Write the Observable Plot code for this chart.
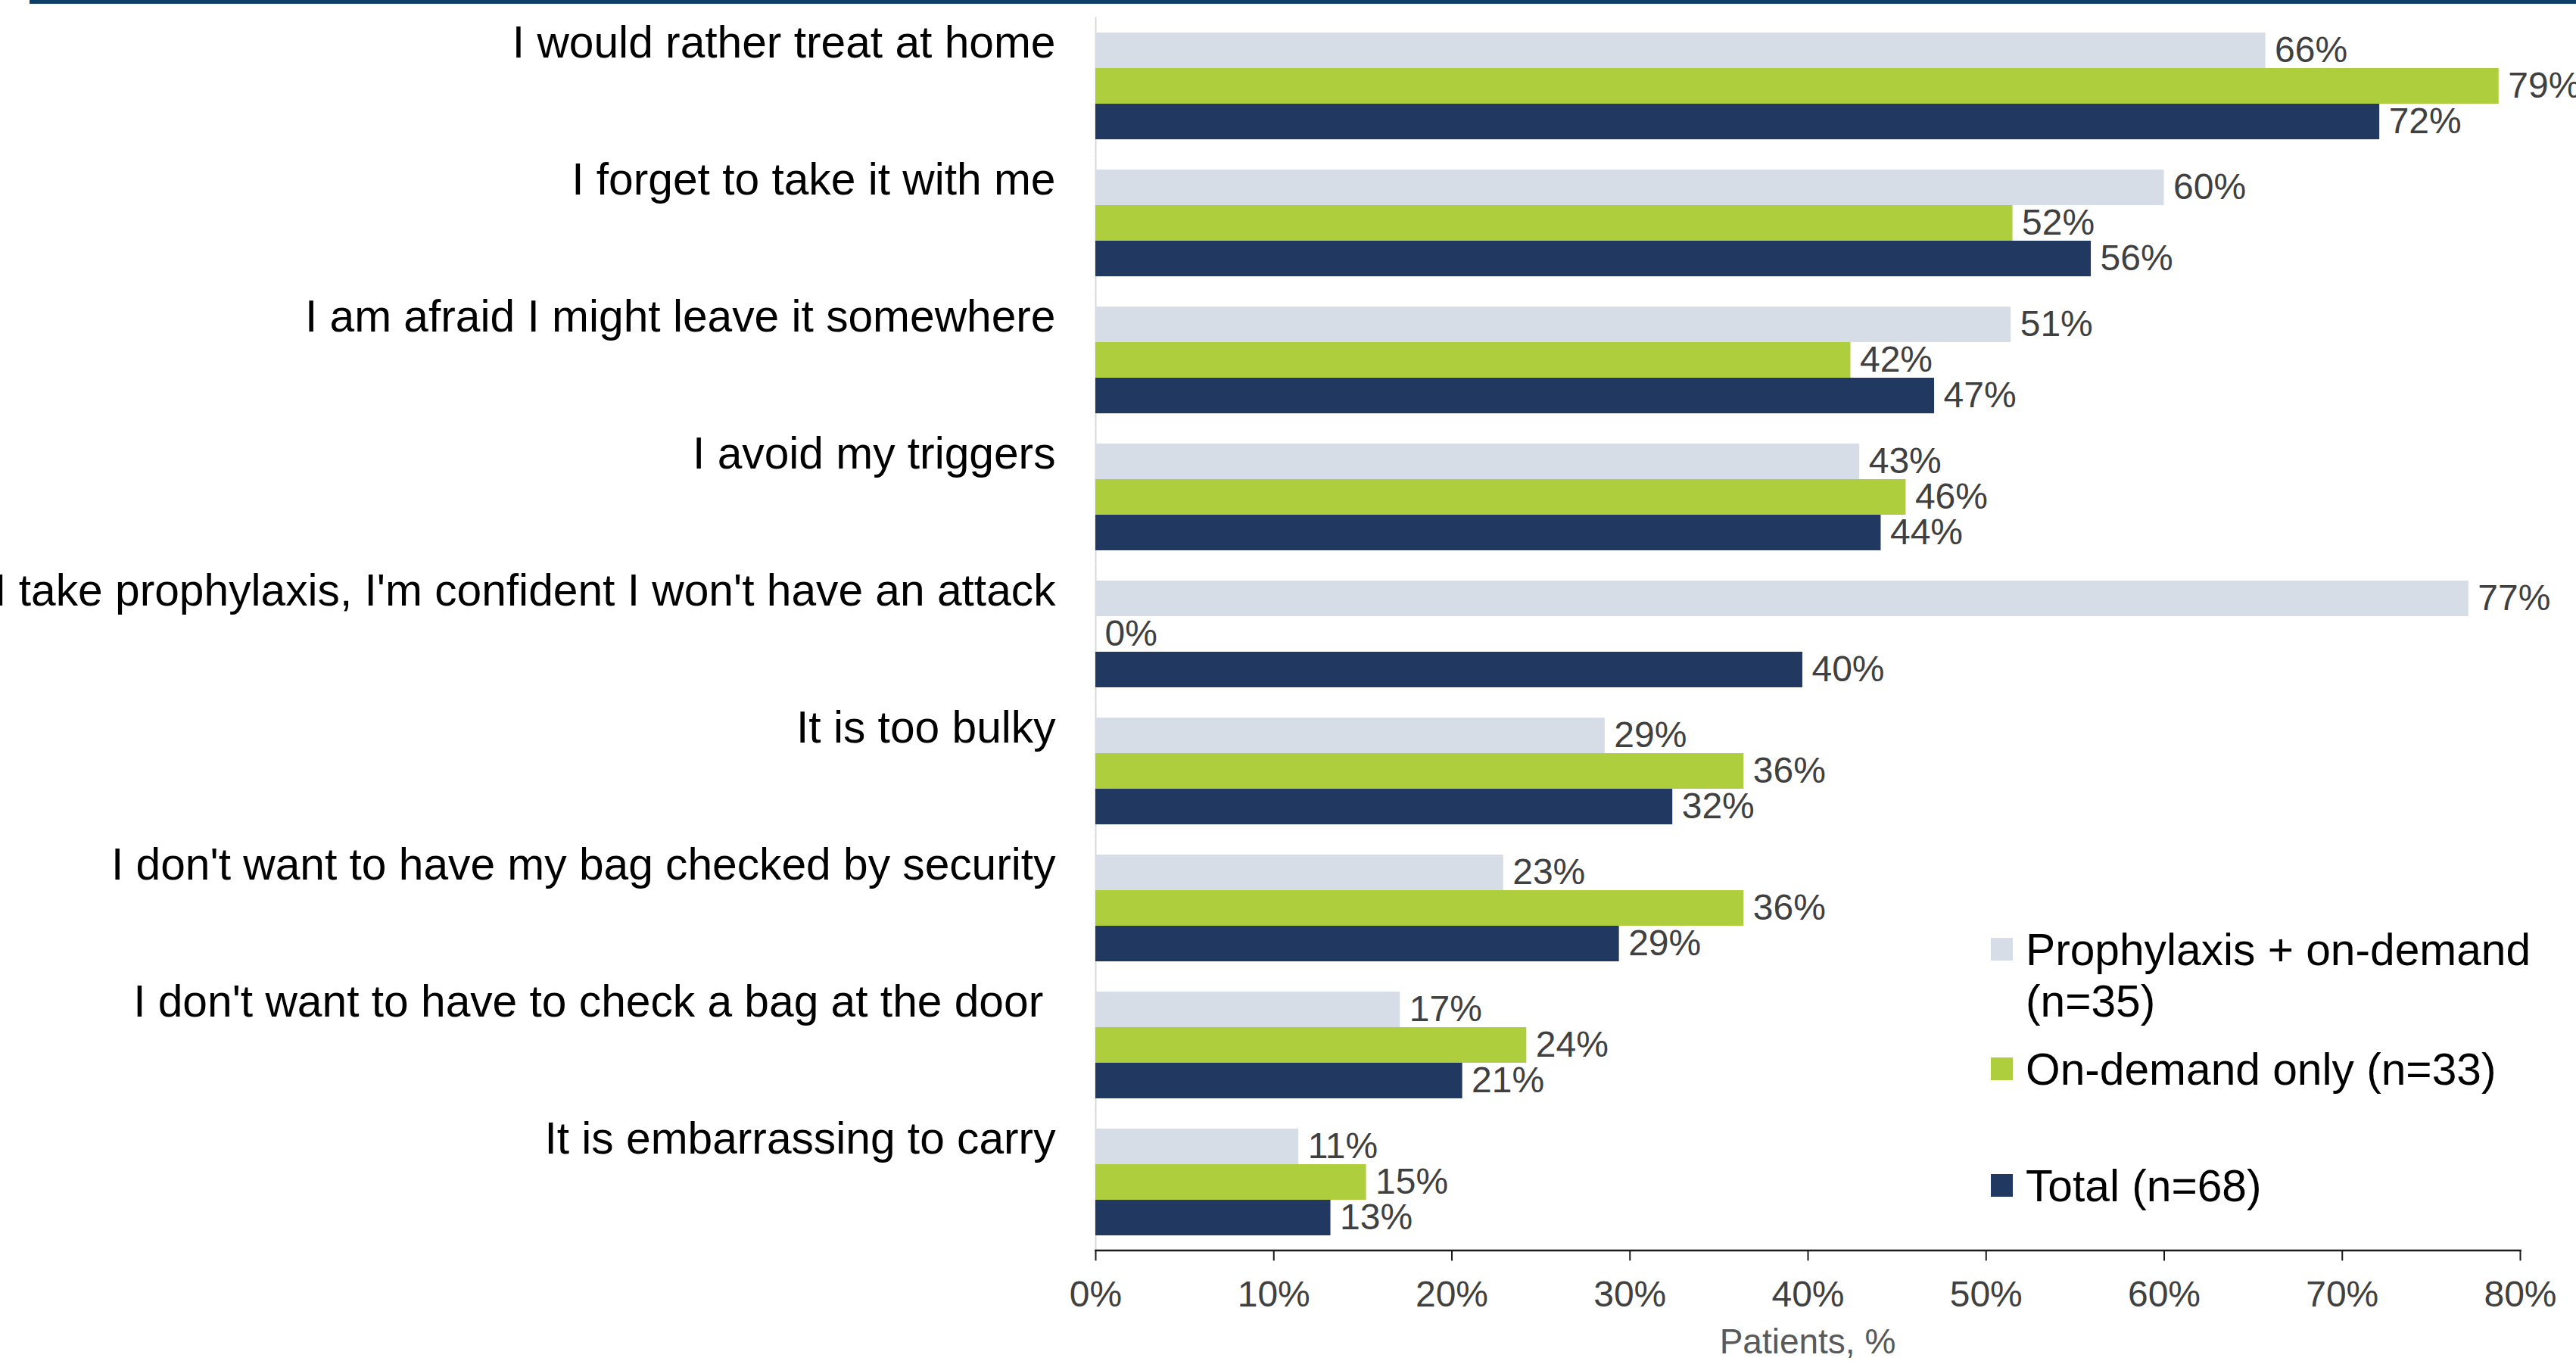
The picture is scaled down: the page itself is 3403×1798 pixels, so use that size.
<!DOCTYPE html>
<html>
<head>
<meta charset="utf-8">
<script src="https://cdn.jsdelivr.net/npm/d3@7"></script>
<script src="https://cdn.jsdelivr.net/npm/@observablehq/plot@0.6"></script>
<style>
  html, body { margin: 0; padding: 0; background: #fff; }
  #page { position: relative; width: 3403px; height: 1798px; overflow: hidden; font-family: 'Liberation Sans', Arial, sans-serif; }
  #topline { position: absolute; left: 39px; top: 0; width: 3364px; height: 5px; background: #0d3f66; }
  .legend-item { position: absolute; left: 2630px; }
  .legend-swatch { position: absolute; left: 0; top: 0; width: 29px; height: 30px; }
  .legend-text { position: absolute; left: 46px; top: -18px; width: 700px; font-size: 58.7px; line-height: 68px; color: #000; white-space: normal; }
  #xtitle { position: absolute; left: 1447px; width: 1882px; top: 1749px; text-align: center; font-size: 46px; line-height: 46px; color: #595959; }
</style>
</head>
<body>
<div id="page">
  <div id="chart"></div>
  <div id="topline"></div>
  <div id="legend"></div>
  <div id="xtitle"></div>
</div>
<script>
// ---- data ----
const categories = [
  "I would rather treat at home",
  "I forget to take it with me",
  "I am afraid I might leave it somewhere",
  "I avoid my triggers",
  "I take prophylaxis, I'm confident I won't have an attack",
  "It is too bulky",
  "I don't want to have my bag checked by security",
  "I don't want to have to check a bag at the door ",
  "It is embarrassing to carry"
];
const series = ["Prophylaxis + on-demand (n=35)", "On-demand only (n=33)", "Total (n=68)"];
// bar lengths (labels show them rounded)
const prophylaxisOnDemand = [65.7, 60.0, 51.4, 42.9, 77.1, 28.6, 22.9, 17.1, 11.4];
const onDemandOnly = [78.8, 51.5, 42.4, 45.5, 0, 36.4, 36.4, 24.2, 15.2];
const total = [72.1, 55.9, 47.1, 44.1, 39.7, 32.4, 29.4, 20.6, 13.2];
const seriesColors = ["#d6dde6", "#afce3d", "#213861"];
const xTicks = [0, 10, 20, 30, 40, 50, 60, 70, 80];
const xTitle = "Patients, %";

const valuesBySeries = [prophylaxisOnDemand, onDemandOnly, total];
const data = categories.flatMap((c, i) =>
  series.map((s, j) => ({category: c, series: s, value: valuesBySeries[j][i]}))
);

const font = "'Liberation Sans', Arial, sans-serif";

const chart = Plot.plot({
  width: 3403,
  height: 1798,
  marginLeft: 1447,
  marginRight: 74,
  marginTop: 39,
  marginBottom: 162,
  style: {fontFamily: font, background: "#fff", overflow: "visible"},
  x: {domain: [0, 80]},
  y: {domain: series, padding: 0, axis: null},
  fy: {domain: categories, paddingInner: 0.213, paddingOuter: 0, axis: null},
  color: {domain: series, range: seriesColors},
  marks: [
    Plot.ruleX([0], {stroke: "#d9d9d9", strokeWidth: 2, insetTop: -19.4, insetBottom: -19.4}),
    Plot.barX(data, {x: "value", y: "series", fy: "category", fill: "series"}),
    Plot.text(data, {
      x: "value", y: "series", fy: "category",
      text: d => `${Math.round(d.value)}%`,
      textAnchor: "start", dx: 12, fontSize: 48, fill: "#404040"
    }),
    Plot.axisFy({
      anchor: "left", tickSize: 0, tickPadding: 53, fontSize: 58.7, color: "#000",
      dy: -56, label: null,
      tickFormat: d => d.replace(/ $/, "\u00a0")
    }),
    Plot.frame({anchor: "bottom", stroke: "#1a1a1a", strokeWidth: 2.5, dy: 19.4, facetAnchor: "bottom"}),
    Plot.axisX({
      ticks: xTicks, tickFormat: d => `${d}%`,
      tickSize: 14, tickPadding: 26, fontSize: 48,
      stroke: "#1a1a1a", fill: "#404040", strokeWidth: 2,
      dy: 19.4, label: null
    })
  ]
});
document.getElementById("chart").appendChild(chart);

// ---- legend ----
const legendTops = [1239, 1397, 1551];
const legend = document.getElementById("legend");
series.forEach((s, j) => {
  const item = document.createElement("div");
  item.className = "legend-item";
  item.style.top = legendTops[j] + "px";
  const sw = document.createElement("div");
  sw.className = "legend-swatch";
  sw.style.background = seriesColors[j];
  const tx = document.createElement("div");
  tx.className = "legend-text";
  tx.textContent = s;
  item.appendChild(sw);
  item.appendChild(tx);
  legend.appendChild(item);
});
document.getElementById("xtitle").textContent = xTitle;
</script>
</body>
</html>
